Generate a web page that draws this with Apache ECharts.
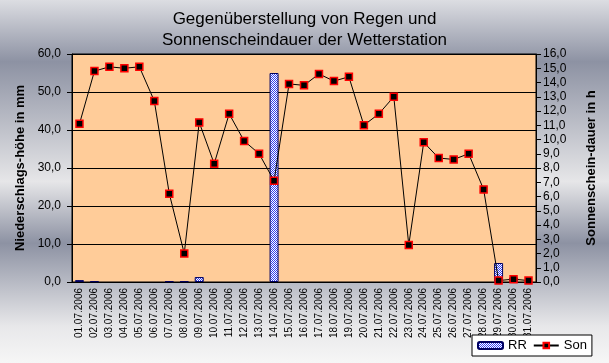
<!DOCTYPE html>
<html><head><meta charset="utf-8">
<script src="https://cdn.jsdelivr.net/npm/echarts@6/dist/echarts.min.js"></script>
<style>html,body{margin:0;padding:0;}#c{width:609px;height:363px;}</style>
</head><body><div id="c"></div>
<script>
const categories = ['01.07.2006','02.07.2006','03.07.2006','04.07.2006','05.07.2006','06.07.2006','07.07.2006','08.07.2006','09.07.2006','10.07.2006','11.07.2006','12.07.2006','13.07.2006','14.07.2006','15.07.2006','16.07.2006','17.07.2006','18.07.2006','19.07.2006','20.07.2006','21.07.2006','22.07.2006','23.07.2006','24.07.2006','25.07.2006','26.07.2006','27.07.2006','28.07.2006','29.07.2006','30.07.2006','31.07.2006'];
const rr = [0.5,0.2,0,0,0,0,0.2,0.2,1.3,0,0,0,0,55.0,0,0,0,0,0,0,0,0,0,0,0,0,0,0,5.0,1.2,0];
const son = [11.1,14.8,15.1,15.0,15.1,12.7,6.2,2.0,11.2,8.3,11.8,9.9,9.0,7.1,13.9,13.8,14.6,14.1,14.4,11.0,11.8,13.0,2.6,9.8,8.7,8.6,9.0,6.5,0.1,0.2,0.1];
const titleLines = ['Gegenüberstellung von Regen und','Sonnenscheindauer der Wetterstation'];

const pc = document.createElement('canvas');
pc.width = 2; pc.height = 2;
const g = pc.getContext('2d');
g.fillStyle = '#ffffff'; g.fillRect(0,0,2,2);
g.fillStyle = '#3340f0'; g.fillRect(0,0,1,1); g.fillRect(1,1,1,1);

const fmt = v => v.toFixed(1).replace('.', ',');
const font = 'Liberation Sans, Arial, sans-serif';
const chart = echarts.init(document.getElementById('c'), null, {renderer:'canvas'});
chart.setOption({
  animation:false,
  backgroundColor:{type:'linear',x:0,y:0,x2:0,y2:1,colorStops:[
    {offset:0,color:'#dcdde2'},{offset:0.17,color:'#8d92a3'},{offset:0.5,color:'#e6e6e8'},
    {offset:0.67,color:'#8d92a3'},{offset:0.9,color:'#e8e8ea'},{offset:1,color:'#f6f6f6'}]},
  textStyle:{fontFamily:font},
  title:{text:titleLines.join('\n'),left:'center',top:4,
    textStyle:{fontSize:17,fontWeight:'normal',color:'#000',lineHeight:21,fontFamily:font}},
  legend:{left:472,top:335,backgroundColor:'#fff',borderColor:'#000',borderWidth:1,borderRadius:0,
    padding:[4,5,4,5],itemGap:6,itemWidth:25,itemHeight:7,
    textStyle:{fontSize:13,color:'#000',fontFamily:font},data:['RR','Son']},
  grid:{left:72,top:54,right:73,bottom:81,show:true,backgroundColor:'#ffcc99',borderColor:'#000',borderWidth:1},
  xAxis:{type:'category',data:categories,boundaryGap:true,
    axisLine:{lineStyle:{color:'#000'}},
    axisTick:{interval:0,length:4,lineStyle:{color:'#000'}},
    axisLabel:{interval:0,rotate:90,fontSize:10,color:'#000',margin:6,fontFamily:font}},
  yAxis:[
    {type:'value',min:0,max:60,interval:10,name:'Niederschlags-höhe in mm',nameLocation:'middle',nameGap:45,
     nameTextStyle:{fontSize:13,fontWeight:'bold',color:'#000',fontFamily:font},
     axisLine:{show:true,lineStyle:{color:'#000'}},axisTick:{show:true,length:5,lineStyle:{color:'#000'}},
     axisLabel:{formatter:fmt,fontSize:12,color:'#000',margin:11,fontFamily:font},
     splitLine:{show:true,lineStyle:{color:'#000',width:1}}},
    {type:'value',min:0,max:16,interval:1,name:'Sonnenschein-dauer in h',nameLocation:'middle',nameGap:49,
     nameTextStyle:{fontSize:13,fontWeight:'bold',color:'#000',fontFamily:font},
     axisLine:{show:true,lineStyle:{color:'#000'}},axisTick:{show:true,length:5,lineStyle:{color:'#000'}},
     axisLabel:{formatter:fmt,fontSize:12,color:'#000',margin:7,fontFamily:font},
     splitLine:{show:false}}
  ],
  series:[
    {name:'RR',type:'bar',yAxisIndex:0,data:rr.map(v => v === 0 ? null : v),barWidth:9,
     itemStyle:{color:{image:pc,repeat:'repeat'},borderColor:'#000060',borderWidth:1}},
    {name:'Son',type:'line',yAxisIndex:1,data:son,symbol:'rect',symbolSize:7,
     lineStyle:{color:'#000',width:1},
     itemStyle:{color:'#000',borderColor:'#ff0000',borderWidth:1.5}}
  ]
});
</script></body></html>
